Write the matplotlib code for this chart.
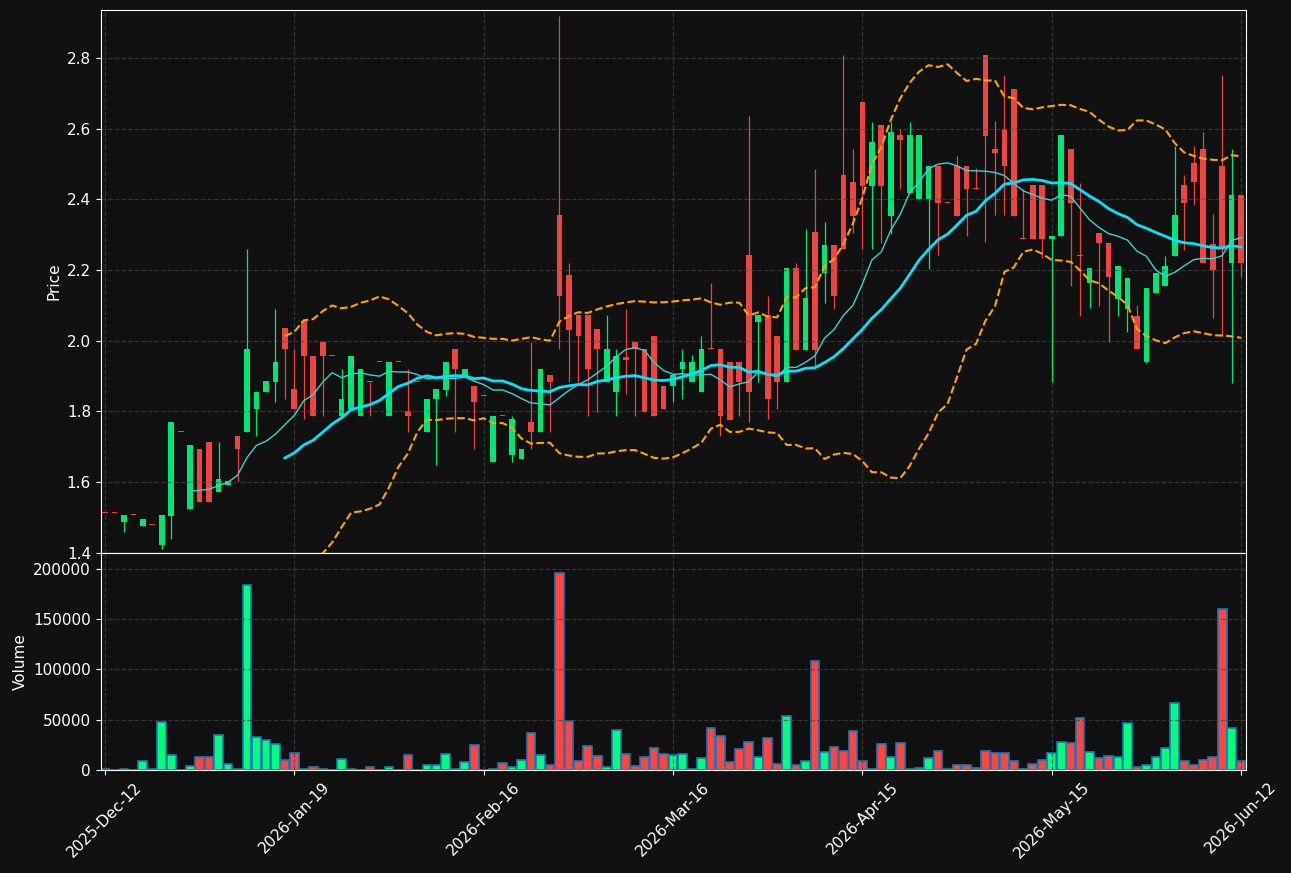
import matplotlib
matplotlib.use("Agg")
import matplotlib.pyplot as plt
import numpy as np
import pandas as pd

# OHLC (index-based x axis)
opens = [1.515, 1.515, 1.486, 1.507, 1.477, 1.479, 1.421, 1.505, 1.742, 1.523,
         1.695, 1.715, 1.573, 1.591, 1.732, 1.741, 1.806, 1.854, 1.883, 2.035,
         1.865, 2.055, 1.958, 1.998, 1.958, 1.787, 1.806, 1.786, 1.884, 1.941,
         1.786, 1.941, 1.800, 1.884, 1.742, 1.834, 1.862, 1.978, 1.900, 1.873,
         1.844, 1.656, 1.787, 1.676, 1.665, 1.771, 1.741, 1.902, 2.355, 2.185,
         2.072, 2.072, 2.034, 1.883, 1.854, 1.955, 1.996, 1.977, 2.015, 1.873,
         1.872, 1.919, 1.883, 1.855, 1.977, 1.977, 1.941, 1.941, 2.242, 2.053,
         2.072, 2.015, 1.883, 2.206, 1.975, 2.308, 2.191, 2.270, 2.468, 2.448,
         2.676, 2.438, 2.610, 2.353, 2.581, 2.419, 2.400, 2.400, 2.496, 2.391,
         2.496, 2.496, 2.431, 2.808, 2.543, 2.600, 2.712, 2.289, 2.440, 2.440,
         2.288, 2.296, 2.543, 2.240, 2.164, 2.306, 2.278, 2.118, 2.091, 2.071,
         1.940, 2.136, 2.155, 2.240, 2.440, 2.503, 2.543, 2.273, 2.494, 2.221,
         2.412]
highs = [1.515, 1.515, 1.508, 1.507, 1.496, 1.479, 1.508, 1.771, 1.742, 1.706,
         1.695, 1.715, 1.714, 1.602, 1.732, 2.261, 1.856, 1.885, 2.091, 2.035,
         1.977, 2.055, 1.958, 1.998, 1.958, 1.921, 1.958, 1.921, 1.884, 1.941,
         1.941, 1.941, 1.921, 1.884, 1.836, 1.864, 1.941, 1.978, 1.921, 1.873,
         1.844, 1.788, 1.787, 1.788, 1.695, 1.996, 1.921, 1.902, 2.919, 2.221,
         2.072, 2.072, 2.034, 2.072, 1.977, 2.089, 1.996, 1.977, 2.015, 1.873,
         1.902, 1.977, 1.960, 2.015, 2.164, 1.977, 1.941, 1.941, 2.636, 2.072,
         2.126, 2.015, 2.206, 2.221, 2.317, 2.485, 2.336, 2.270, 2.808, 2.542,
         2.676, 2.619, 2.610, 2.619, 2.600, 2.619, 2.581, 2.496, 2.496, 2.391,
         2.524, 2.496, 2.488, 2.808, 2.622, 2.752, 2.712, 2.430, 2.440, 2.440,
         2.298, 2.582, 2.543, 2.446, 2.205, 2.306, 2.278, 2.213, 2.177, 2.100,
         2.149, 2.192, 2.240, 2.552, 2.468, 2.552, 2.592, 2.358, 2.751, 2.542,
         2.412]
lows = [1.515, 1.515, 1.458, 1.507, 1.477, 1.479, 1.411, 1.440, 1.742, 1.523,
        1.543, 1.543, 1.573, 1.591, 1.602, 1.741, 1.732, 1.854, 1.826, 1.836,
        1.806, 1.779, 1.786, 1.788, 1.958, 1.787, 1.806, 1.786, 1.786, 1.941,
        1.786, 1.941, 1.742, 1.884, 1.742, 1.649, 1.845, 1.742, 1.900, 1.694,
        1.844, 1.656, 1.787, 1.656, 1.665, 1.694, 1.741, 1.741, 1.977, 1.883,
        1.883, 1.788, 1.798, 1.883, 1.788, 1.849, 1.788, 1.798, 1.788, 1.807,
        1.826, 1.836, 1.883, 1.855, 1.977, 1.732, 1.777, 1.788, 1.769, 1.883,
        1.779, 1.808, 1.883, 1.975, 1.975, 1.930, 2.108, 2.091, 2.259, 2.306,
        2.261, 2.261, 2.278, 2.302, 2.431, 2.419, 2.400, 2.204, 2.242, 2.391,
        2.353, 2.298, 2.431, 2.279, 2.355, 2.355, 2.353, 2.289, 2.287, 2.233,
        1.884, 2.296, 2.155, 2.071, 2.092, 2.099, 1.998, 2.071, 2.026, 1.977,
        1.936, 2.136, 2.155, 2.240, 2.256, 2.383, 2.221, 2.064, 2.015, 1.882,
        2.180]
closes = [1.514, 1.514, 1.508, 1.506, 1.496, 1.478, 1.508, 1.771, 1.741, 1.706,
          1.543, 1.543, 1.610, 1.602, 1.693, 1.978, 1.856, 1.885, 1.941, 1.976,
          1.806, 1.956, 1.786, 1.956, 1.957, 1.836, 1.958, 1.921, 1.883, 1.940,
          1.941, 1.940, 1.787, 1.883, 1.836, 1.864, 1.941, 1.920, 1.921, 1.826,
          1.843, 1.788, 1.786, 1.780, 1.695, 1.741, 1.921, 1.883, 2.126, 2.032,
          2.013, 1.921, 1.977, 1.977, 1.958, 1.945, 1.977, 1.798, 1.788, 1.807,
          1.902, 1.941, 1.941, 1.977, 1.976, 1.787, 1.777, 1.883, 1.855, 2.072,
          1.834, 1.883, 2.206, 1.975, 2.121, 1.975, 2.270, 2.126, 2.259, 2.353,
          2.438, 2.562, 2.438, 2.590, 2.569, 2.581, 2.581, 2.496, 2.391, 2.390,
          2.353, 2.429, 2.430, 2.580, 2.532, 2.495, 2.353, 2.288, 2.287, 2.287,
          2.298, 2.582, 2.390, 2.239, 2.205, 2.276, 2.182, 2.213, 2.177, 1.977,
          2.149, 2.192, 2.213, 2.355, 2.390, 2.449, 2.221, 2.200, 2.262, 2.412,
          2.221]
volumes = [700, 0, 1300, 0, 8600, 1300, 47500, 14600, 0, 3700,
           12600, 12600, 34500, 5600, 700, 184000, 32600, 29600, 25600, 9600,
           16600, 1300, 2700, 1300, 0, 10600, 1300, 0, 2700, 0,
           2700, 0, 14600, 0, 4600, 4600, 15600, 1300, 7600, 24600,
           0, 700, 6600, 2700, 9600, 36500, 14600, 4600, 196000, 49200,
           8600, 23600, 13600, 2700, 39500, 15600, 3700, 12600, 21600, 15600,
           14600, 15600, 1300, 11600, 41500, 33500, 7600, 20600, 27600, 12600,
           31600, 5600, 53500, 4600, 8600, 108300, 17600, 22600, 18600, 38500,
           8600, 700, 25600, 12600, 26600, 700, 1700, 11600, 18600, 500,
           4600, 4600, 1700, 18600, 16600, 16600, 8600, 500, 5600, 9600,
           16600, 27600, 26600, 51500, 17600, 11600, 13600, 12600, 46500, 2700,
           4600, 12600, 21600, 66400, 8600, 4600, 9600, 12600, 160000, 41500,
           8600]
tick_pos = [0, 20, 40, 60, 80, 100, 120]
tick_labels = ["2025-Dec-12", "2026-Jan-19", "2026-Feb-16", "2026-Mar-16",
               "2026-Apr-15", "2026-May-15", "2026-Jun-12"]

BG = "#111111"
UP, DOWN = "#00e676", "#ef4444"
VUP, VDOWN = "#00ff7f", "#ff4444"

df = pd.DataFrame({"o": opens, "h": highs, "l": lows, "c": closes, "v": volumes})
x = np.arange(len(df))
up = df["c"] >= df["o"]

ma10 = df["c"].rolling(10).mean()
ma20 = df["c"].rolling(20).mean()
sd20 = df["c"].rolling(20).std(ddof=0)
bb_up, bb_lo = ma20 + 2 * sd20, ma20 - 2 * sd20

fig = plt.figure(figsize=(12.91, 8.73), dpi=100, facecolor=BG)
gs = fig.add_gridspec(2, 1, height_ratios=[2.5, 1], hspace=0,
                      left=0.078, right=0.965, top=0.9885, bottom=0.118)
ax = fig.add_subplot(gs[0])
axv = fig.add_subplot(gs[1], sharex=ax)

for a in (ax, axv):
    a.set_facecolor(BG)
    for s in a.spines.values():
        s.set_color("white")
    a.tick_params(colors="white", labelsize=11)
    a.grid(True, color="#444444", linestyle="--", linewidth=0.9, alpha=0.7)

colors = np.where(up, UP, DOWN)
ax.vlines(x, df["l"], df["h"], colors=colors, linewidth=0.9)
body_lo = np.minimum(df["o"], df["c"])
body_h = np.maximum(np.abs(df["c"] - df["o"]), 0.003)
ax.bar(x, body_h, bottom=body_lo, width=0.6, color=colors)

ax.plot(x, ma10, color="#40d0d0", linewidth=1.0)
ax.plot(x, ma20, color="#00e5ff", linewidth=2.0)
ax.plot(x, bb_up, color="orange", linestyle="--", linewidth=1.5)
ax.plot(x, bb_lo, color="orange", linestyle="--", linewidth=1.5)

ax.set_ylim(1.4, 2.936)
ax.set_ylabel("Price", color="white", fontsize=11)
plt.setp(ax.get_xticklabels(), visible=False)

axv.bar(x, df["v"], width=0.92, color=np.where(up, VUP, VDOWN),
        edgecolor="#1f77b4", linewidth=1.2)
axv.set_ylim(0, 216000)
axv.set_yticks([0, 50000, 100000, 150000, 200000])
axv.set_ylabel("Volume", color="white", fontsize=11)
axv.set_xlim(-0.45, 120.5)
axv.set_xticks(tick_pos)
axv.set_xticklabels(tick_labels, rotation=45)

fig.savefig("out.png", facecolor=BG)
